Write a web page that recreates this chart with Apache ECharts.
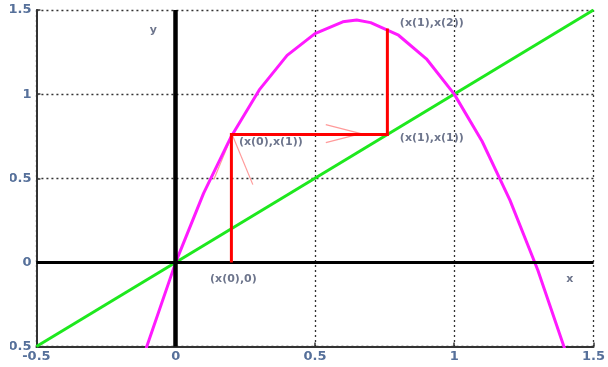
<!DOCTYPE html>
<html><head><meta charset="utf-8">
<script src="https://cdn.jsdelivr.net/npm/echarts@6/dist/echarts.min.js"></script>
<style>html,body{margin:0;padding:0;background:#fff}#c{width:608px;height:367px}</style>
</head><body><div id="c"></div>
<script>
// ---- data ----
const xTickLabels = ['-0.5', '0', '0.5', '1', '1.5'];
const yTickLabels = ['-0.5', '0', '0.5', '1', '1.5'];
// parabola (magenta), read point by point
const curveX = [-0.11, 0, 0.1, 0.2, 0.3, 0.4, 0.5, 0.6, 0.65, 0.7, 0.8, 0.9, 1.0, 1.1, 1.2, 1.3, 1.4];
const curveY = [-0.53, 0, 0.41, 0.75, 1.025, 1.23, 1.36, 1.43, 1.44, 1.425, 1.35, 1.21, 1.0, 0.72, 0.37, -0.045, -0.53];
// identity line (green)
const lineX = [-0.5, 1.5];
const lineY = [-0.5, 1.5];
// cobweb path (red)
const webX = [0.2, 0.2, 0.76, 0.76];
const webY = [0, 0.76, 0.76, 1.39];
// faint annotation arrows (pink)
const arrowSegs = [
  [[0.203, 0.759], [0.277, 0.462]],
  [[0.203, 0.759], [0.137, 0.492]],
  [[0.539, 0.819], [0.665, 0.765]],
  [[0.539, 0.712], [0.665, 0.765]]
];
// text annotations
const noteText = ['(x(0),0)', '(x(0),x(1))', '(x(1),x(1))', '(x(1),x(2))', 'y', 'x'];
const noteX = [0.2, 0.2, 0.76, 0.76, -0.08, 1.415];
const noteY = [0, 0.76, 0.76, 1.39, 1.383, -0.097];

const notePos = [
  {position: 'bottom', distance: 11, offset: [2, 0]},
  {position: 'right', distance: 7, offset: [0, 8]},
  {position: 'right', distance: 12, offset: [0, 4]},
  {position: 'right', distance: 12, offset: [0, -5]},
  {position: 'inside', distance: 0, offset: [0, 0]},
  {position: 'inside', distance: 0, offset: [0, 0]}
];

const zip = (a, b) => a.map((v, i) => [v, b[i]]);
const chart = echarts.init(document.getElementById('c'), null, {renderer: 'canvas'});
const labelFont = {fontFamily: 'DejaVu Sans', fontWeight: 'bold', fontSize: 13, color: '#56709a'};
const gridDash = {color: '#333', width: 1.3, type: [2, 3]};

chart.setOption({
  animation: false,
  backgroundColor: '#fff',
  grid: {left: 30, right: 7, top: 10, bottom: 20.5, containLabel: false},
  xAxis: {
    type: 'value', min: -0.5, max: 1.5, interval: 0.5,
    axisLine: {onZero: false, lineStyle: {color: '#333', width: 2}},
    axisTick: {inside: true, length: 4, lineStyle: {color: '#333', width: 1.5}},
    axisLabel: Object.assign({margin: 4, formatter: (v) => xTickLabels[Math.round((v + 0.5) / 0.5)]}, labelFont),
    splitLine: {show: true, lineStyle: gridDash}
  },
  yAxis: {
    type: 'value', min: -0.5, max: 1.5, interval: 0.5,
    axisLine: {show: true, onZero: false, lineStyle: {color: '#333', width: 2}},
    axisTick: {show: true, inside: true, length: 4, lineStyle: {color: '#333', width: 1.5}},
    axisLabel: Object.assign({margin: 5, formatter: (v) => yTickLabels[Math.round((v + 0.5) / 0.5)]}, labelFont),
    splitLine: {show: true, lineStyle: gridDash}
  },
  graphic: [{type: 'rect', left: 0, top: 0, z: 100, shape: {width: 10, height: 367}, style: {fill: '#fff'}}],
  series: [
    {
      type: 'line', data: [], z: 1, silent: true,
      markLine: {
        silent: true, symbol: 'none', label: {show: false}, animation: false,
        data: [
          {xAxis: 0, lineStyle: {color: '#000', width: 4.5, type: 'solid'}},
          {yAxis: 0, lineStyle: {color: '#000', width: 3, type: 'solid'}}
        ]
      }
    },
    ...arrowSegs.map(seg => ({
      type: 'line', data: seg, z: 2, symbol: 'none', silent: true,
      lineStyle: {color: '#ff9a9a', width: 1.2}
    })),
    {type: 'line', data: zip(lineX, lineY), z: 3, symbol: 'none', lineStyle: {color: '#1ee81e', width: 3}},
    {type: 'line', data: zip(curveX, curveY), z: 4, symbol: 'none', clip: true, lineStyle: {color: '#ff1aff', width: 3}},
    {type: 'line', data: zip(webX, webY), z: 5, symbol: 'none', lineStyle: {color: '#ff0000', width: 3, join: 'miter', cap: 'butt'}},
    {
      type: 'scatter', z: 6, symbolSize: 1, itemStyle: {color: 'rgba(0,0,0,0)'}, silent: true,
      data: noteText.map((t, i) => ({
        value: [noteX[i], noteY[i]],
        label: Object.assign({show: true, formatter: t, fontFamily: 'DejaVu Sans', fontWeight: 'bold', fontSize: 11, color: '#48526f'}, notePos[i])
      }))
    }
  ]
});
</script></body></html>
